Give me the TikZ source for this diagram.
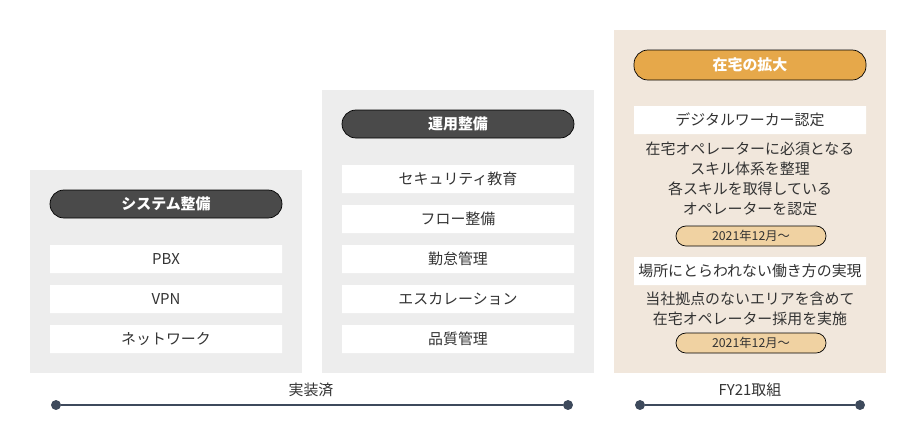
\documentclass[tikz,border=0pt]{standalone}
\usepackage{fontspec}
\setmainfont{Noto Sans CJK JP}
\definecolor{panelgray}{HTML}{EDEDED}
\definecolor{panelbeige}{HTML}{F1E7DC}
\definecolor{pilldark}{HTML}{4A4A4A}
\definecolor{pillorange}{HTML}{E6A84A}
\definecolor{datetan}{HTML}{F0D2A2}
\definecolor{linecol}{HTML}{3E4A5C}
\definecolor{txt}{HTML}{333333}
\tikzset{
  pill/.style={fill=pilldark, rounded corners=14\unitpx, text=white, font=\bfseries\fontsize{8.5}{10}\selectfont},
  itembox/.style={fill=white, text=txt, font=\fontsize{8.5}{10}\selectfont},
  datepill/.style={fill=datetan, rounded corners=10\unitpx, text=txt, font=\fontsize{7}{8}\selectfont},
  bodytext/.style={text=txt, font=\fontsize{8.5}{11.5}\selectfont, align=center},
  dot/.style={circle, fill=linecol, inner sep=0pt, minimum size=10\unitpx},
}
\newcommand{\unitpx}{pt*0.5669}
\begin{document}
\begin{tikzpicture}[x=0.02cm, y=-0.02cm]
      \useasboundingbox (0, 0) rectangle (916, 440);
      % panels
      \fill [panelgray] (30, 170) rectangle (302, 373);
      \fill [panelgray] (322, 90) rectangle (594, 373);
      \fill [panelbeige] (614, 30) rectangle (886, 373);
      % system
      \draw [pill] (50, 190) rectangle (282, 218) node (sys) [pos=.5] {システム整備};
      \fill [white] (50, 245) rectangle (282, 273) node (pbx) [pos=.5, itembox, fill=none] {PBX}
                    (50, 285) rectangle (282, 313) node (vpn) [pos=.5, itembox, fill=none] {VPN}
                    (50, 325) rectangle (282, 353) node (net) [pos=.5, itembox, fill=none] {ネットワーク};
      % operation
      \draw [pill] (342, 110) rectangle (574, 138) node (ops) [pos=.5] {運用整備};
      \fill [white] (342, 165) rectangle (574, 193) node (sec) [pos=.5, itembox, fill=none] {セキュリティ教育}
                    (342, 205) rectangle (574, 233) node (flow) [pos=.5, itembox, fill=none] {フロー整備}
                    (342, 245) rectangle (574, 273) node (att) [pos=.5, itembox, fill=none] {勤怠管理}
                    (342, 285) rectangle (574, 313) node (esc) [pos=.5, itembox, fill=none] {エスカレーション}
                    (342, 325) rectangle (574, 353) node (qa) [pos=.5, itembox, fill=none] {品質管理};
      % home
      \draw [pill, fill=pillorange] (634, 50) rectangle (866, 80) node (home) [pos=.5] {在宅の拡大};
      \fill [white] (634, 106) rectangle (866, 134) node (dw) [pos=.5, itembox, fill=none] {デジタルワーカー認定}
                    (634, 257) rectangle (866, 285) node (loc) [pos=.5, itembox, fill=none] {場所にとらわれない働き方の実現};
      \node (dwtext) [bodytext] at (750, 179) {在宅オペレーターに必須となる\\スキル体系を整理\\各スキルを取得している\\オペレーターを認定};
      \draw [datepill] (676, 226) rectangle (826, 246) node (date1) [pos=.5] {2021年12月〜};
      \node (loctext) [bodytext] at (750, 309) {当社拠点のないエリアを含めて\\在宅オペレーター採用を実施};
      \draw [datepill] (676, 333) rectangle (826, 353) node (date2) [pos=.5] {2021年12月〜};
      % timeline
      \node (done) [bodytext] at (311, 390) {実装済};
      \node (fy) [bodytext] at (750, 390) {FY21取組};
      \node (d1) [dot] at (56, 405) {};
      \node (d2) [dot] at (568, 405) {};
      \node (d3) [dot] at (640, 405) {};
      \node (d4) [dot] at (860, 405) {};
      \draw [linecol, line width=1.2pt] (d1) -- (d2) (d3) -- (d4);
\end{tikzpicture}
\end{document}
